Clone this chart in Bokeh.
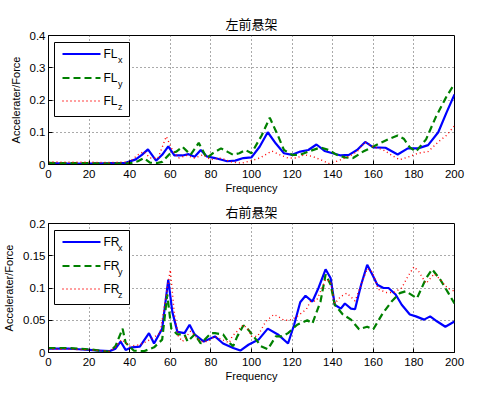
from bokeh.plotting import figure
from bokeh.layouts import column
from bokeh.models import FixedTicker, Label, Range1d, BoxAnnotation, Arrow
from bokeh.embed import file_html
from bokeh.resources import INLINE

# ---------------- data ----------------
x_ticks = [0, 20, 40, 60, 80, 100, 120, 140, 160, 180, 200]
x_labels = ["0", "20", "40", "60", "80", "100", "120", "140", "160", "180", "200"]

top_title = "左前悬架"
bot_title = "右前悬架"
x_label = "Frequency"
y_label = "Accelerater/Force"

y1_ticks = [0, 0.1, 0.2, 0.3, 0.4]
y1_labels = ["0", "0.1", "0.2", "0.3", "0.4"]
y2_ticks = [0, 0.05, 0.1, 0.15, 0.2]
y2_labels = ["0", "0.05", "0.1", "0.15", "0.2"]

top_names = ["FL", "FL", "FL"]
bot_names = ["FR", "FR", "FR"]
subs = ["x", "y", "z"]

f_FLx = [0, 10, 20, 30, 38, 43, 46, 49, 53, 56, 59, 62, 66, 69, 72, 75, 78, 82, 88, 92, 96, 100, 104, 108, 112,
         116, 120, 124, 128, 132, 136, 140, 144, 148, 152, 156, 160, 166, 172, 177, 182, 187, 192, 196, 200]
v_FLx = [0.004, 0.003, 0.003, 0.004, 0.005, 0.016, 0.03, 0.047, 0.012, 0.03, 0.056, 0.028, 0.028, 0.032, 0.024,
         0.045, 0.025, 0.02, 0.01, 0.012, 0.02, 0.022, 0.055, 0.1, 0.065, 0.035, 0.03, 0.04, 0.045, 0.062,
         0.042, 0.035, 0.028, 0.03, 0.045, 0.07, 0.053, 0.052, 0.031, 0.05, 0.05, 0.06, 0.1, 0.16, 0.217]

f_FLy = [0, 10, 20, 30, 40, 44, 47, 50, 53, 56, 60, 63, 66, 70, 74, 78, 81, 85, 88, 91, 94, 97, 100, 105, 109,
         113, 116, 120, 124, 128, 134, 138, 142, 146, 150, 155, 162, 168, 172, 175, 178, 181, 186, 191, 196, 200]
v_FLy = [0.005, 0.004, 0.004, 0.003, 0.004, 0.01, 0.02, 0.006, 0.004, 0.008, 0.035, 0.04, 0.055, 0.03, 0.067,
         0.02, 0.035, 0.05, 0.04, 0.03, 0.035, 0.045, 0.035, 0.09, 0.145, 0.09, 0.045, 0.03, 0.03, 0.04,
         0.053, 0.045, 0.03, 0.022, 0.02, 0.04, 0.062, 0.08, 0.09, 0.08, 0.053, 0.04, 0.078, 0.15, 0.21, 0.25]

f_FLz = [0, 10, 20, 30, 40, 44, 47, 50, 54, 58, 61, 64, 68, 72, 76, 80, 85, 90, 95, 100, 104, 110, 114, 118,
         122, 126, 130, 134, 138, 142, 148, 152, 156, 160, 165, 170, 173, 178, 182, 187, 192, 196, 200]
v_FLz = [0.008, 0.007, 0.007, 0.006, 0.008, 0.03, 0.04, 0.02, 0.02, 0.087, 0.045, 0.02, 0.028, 0.02, 0.03,
         0.015, 0.02, 0.008, 0.004, 0.012, 0.02, 0.042, 0.03, 0.02, 0.02, 0.03, 0.025, 0.015, 0.003, 0.01,
         0.025, 0.04, 0.07, 0.055, 0.045, 0.025, 0.015, 0.025, 0.035, 0.04, 0.07, 0.09, 0.12]

f_FRx = [0, 10, 15, 20, 25, 30, 33, 35.5, 38, 41, 45, 49.5, 52, 56, 59, 61, 63.5, 67, 69.5, 72, 76.5, 82, 86,
         91, 94.5, 98.5, 103.5, 108, 113, 118, 121, 124, 126.6, 130, 133, 136.5, 139, 141, 144, 146, 149, 151,
         154, 157, 159.5, 162, 165, 167.5, 171, 174, 178, 181, 185, 188, 191.5, 195.5, 200]
v_FRx = [0.006, 0.006, 0.005, 0.004, 0.003, 0.002, 0.006, 0.017, 0.004, 0.008, 0.009, 0.03, 0.014, 0.037,
         0.113, 0.063, 0.032, 0.03, 0.043, 0.028, 0.017, 0.025, 0.014, 0.007, 0.003, 0.012, 0.02, 0.037,
         0.028, 0.014, 0.043, 0.078, 0.088, 0.079, 0.1, 0.129, 0.115, 0.074, 0.068, 0.076, 0.068, 0.067,
         0.105, 0.136, 0.121, 0.105, 0.1, 0.1, 0.09, 0.074, 0.059, 0.056, 0.051, 0.056, 0.048, 0.04, 0.048]

f_FRy = [0, 10, 15, 20, 25, 30, 33, 36.5, 38, 42, 47, 52, 56, 58.5, 60.5, 63.5, 67, 68.5, 72, 75, 80, 82, 86,
         89, 91, 93, 96, 98.5, 103, 104.5, 108, 112, 115, 118, 122.5, 127.5, 130, 134, 136.5, 139, 141, 145,
         149, 153, 157, 160, 164.5, 169, 173, 176, 181.5, 186, 189, 193, 197, 200]
v_FRy = [0.007, 0.007, 0.006, 0.005, 0.003, 0.001, 0.01, 0.037, 0.015, 0.003, 0.002, 0.008, 0.02, 0.09,
         0.037, 0.028, 0.028, 0.017, 0.028, 0.014, 0.03, 0.03, 0.028, 0.015, 0.01, 0.025, 0.042, 0.035,
         0.017, 0.01, 0.005, 0.025, 0.025, 0.03, 0.043, 0.05, 0.045, 0.079, 0.121, 0.105, 0.074, 0.059,
         0.051, 0.036, 0.04, 0.036, 0.06, 0.079, 0.092, 0.095, 0.084, 0.115, 0.129, 0.113, 0.092, 0.076]

f_FRz = [0, 10, 20, 30, 33, 36, 40, 45, 50, 55, 58, 60, 62, 64, 66, 70, 75, 78.5, 82, 89, 90.5, 96, 98.5, 100,
         103, 107, 111, 113, 116, 119, 122.5, 127, 129, 132, 136.5, 139, 141, 144, 147, 151, 154, 157, 159.5,
         162.5, 166.5, 170, 174, 176.5, 180, 182.5, 186, 190, 193, 196.5, 200]
v_FRz = [0.005, 0.005, 0.004, 0.002, 0.008, 0.02, 0.01, 0.012, 0.02, 0.03, 0.09, 0.128, 0.06, 0.025, 0.017,
         0.033, 0.017, 0.017, 0.025, 0.015, 0.025, 0.043, 0.035, 0.025, 0.025, 0.048, 0.059, 0.056, 0.05,
         0.05, 0.056, 0.067, 0.079, 0.08, 0.113, 0.11, 0.076, 0.087, 0.092, 0.08, 0.105, 0.13, 0.125, 0.098,
         0.093, 0.093, 0.1, 0.115, 0.133, 0.125, 0.107, 0.122, 0.113, 0.1, 0.095]

# ---------------- style ----------------
FONT = "Liberation Sans"
STYLES = [
    dict(line_color="#0000FF", line_width=2.2, line_dash="solid"),
    dict(line_color="#008000", line_width=2.2, line_dash="7 4"),
    dict(line_color="#FF0000", line_width=1.4, line_dash="1 3"),
]
FRAME_W = 406
FRAME_H = 129
X_MAX = 200


def make(title, ymax, yticks, ylabels, series, names, top_border, bottom_border):
    p = figure(frame_width=FRAME_W, frame_height=FRAME_H, output_backend="svg", toolbar_location=None,
               x_range=Range1d(0, X_MAX), y_range=Range1d(0, ymax), title=title,
               min_border_left=40, min_border_right=28,
               min_border_top=top_border, min_border_bottom=bottom_border)
    p.title.align = "center"
    p.title.text_font = "Noto Sans CJK SC"
    p.title.text_font_size = "13px"
    p.title.text_font_style = "normal"
    p.title.text_color = "black"
    p.title.standoff = 6

    p.xaxis.ticker = FixedTicker(ticks=x_ticks)
    p.xaxis.major_label_overrides = dict(zip(x_ticks, x_labels))
    p.yaxis.ticker = FixedTicker(ticks=yticks)
    p.yaxis.major_label_overrides = dict(zip(yticks, ylabels))
    p.xaxis.axis_label = x_label
    p.yaxis.axis_label = y_label
    for ax in (p.xaxis, p.yaxis):
        ax.major_tick_in = 4
        ax.major_tick_out = 0
        ax.minor_tick_line_color = None
        ax.axis_line_color = "black"
        ax.major_tick_line_color = "black"
        ax.major_label_text_font = FONT
        ax.major_label_text_font_size = "11.5px"
        ax.major_label_text_color = "black"
        ax.axis_label_text_font = FONT
        ax.axis_label_text_font_size = "11px"
        ax.axis_label_text_font_style = "normal"
        ax.axis_label_text_color = "black"
    p.xaxis.major_label_standoff = 5
    p.xaxis.axis_label_standoff = 1
    p.yaxis.major_label_standoff = 3
    p.yaxis.axis_label_standoff = 5

    p.grid.grid_line_color = "#444444"
    p.grid.grid_line_dash = "1 3"
    p.grid.grid_line_width = 1
    p.grid.grid_line_alpha = 0.9
    p.outline_line_color = "black"
    p.outline_line_width = 1
    p.outline_line_alpha = 1

    for (fx, vy), st in zip(series, STYLES):
        p.line(fx, vy, **st)

    # ---- legend box, drawn with annotations (offsets in px from frame top-left) ----
    def dx(px):
        return px / FRAME_W * X_MAX

    def dy(py):
        return ymax * (1 - py / FRAME_H)

    p.add_layout(BoxAnnotation(left=dx(6), right=dx(81), top=dy(7), bottom=dy(81),
                               fill_color="white", fill_alpha=1, line_color="black",
                               line_width=1, line_alpha=1))
    row_centres = [18.5, 42.5, 65.5]
    for yc, name, s, st in zip(row_centres, names, subs, STYLES):
        p.add_layout(Arrow(end=None, x_start=dx(14), y_start=dy(yc), x_end=dx(52), y_end=dy(yc), **st))
        p.add_layout(Label(x=dx(55), y=dy(yc - 0.5), text=name, text_font=FONT, text_font_size="12px",
                           text_color="black", text_baseline="middle", text_align="left"))
        p.add_layout(Label(x=dx(69.5), y=dy(yc + 6), text=s, text_font=FONT, text_font_size="9px",
                           text_color="black", text_baseline="middle", text_align="left"))
    return p


p1 = make(top_title, 0.4, y1_ticks, y1_labels, [(f_FLx, v_FLx), (f_FLy, v_FLy), (f_FLz, v_FLz)],
          top_names, 35, 28)
p2 = make(bot_title, 0.2, y2_ticks, y2_labels, [(f_FRx, v_FRx), (f_FRy, v_FRy), (f_FRz, v_FRz)],
          bot_names, 21, 34)

layout = column(p1, p2, spacing=0)
open("out.html", "w").write(file_html(layout, INLINE))
